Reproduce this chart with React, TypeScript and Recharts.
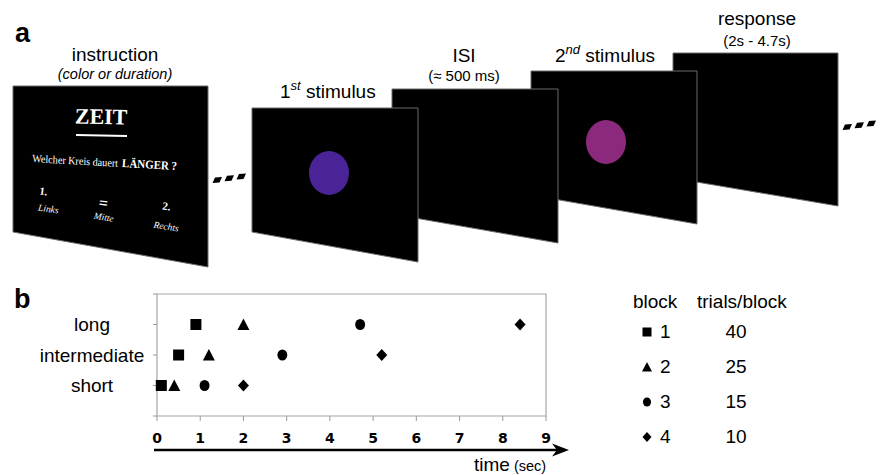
import { Legend, ReferenceArea, Scatter, ScatterChart, XAxis, YAxis } from 'recharts';

// level index: 1 = short, 2 = intermediate, 3 = long
const levels = ['', 'short', 'intermediate', 'long', ''];
const levelTicks = [0, 1, 2, 3, 4];
const timeTicks = [0, 1, 2, 3, 4, 5, 6, 7, 8, 9];

// trial durations (sec) for short / intermediate / long, per block
const block1Times = [0.1, 0.5, 0.9];
const block2Times = [0.4, 1.2, 2.0];
const block3Times = [1.1, 2.9, 4.7];
const block4Times = [2.0, 5.2, 8.4];

const blockNames = ['1', '2', '3', '4'];
const trialsPerBlock = [40, 25, 15, 10];

const toPoints = (times: number[]) => times.map((t, i) => ({ t, level: i + 1 }));

const SANS = '"Liberation Sans", Arial, sans-serif';
const SERIF = '"Liberation Serif", "Times New Roman", serif';

type Mark = 'square' | 'triangle' | 'circle' | 'diamond';
const marks: Mark[] = ['square', 'triangle', 'circle', 'diamond'];

function Marker({ kind, cx, cy, s }: { kind: Mark; cx: number; cy: number; s: number }) {
  const h = s / 2;
  if (kind === 'square') return <rect x={cx - h} y={cy - h} width={s} height={s} fill="#000" />;
  if (kind === 'triangle')
    return <polygon points={`${cx},${cy - h - 0.5} ${cx + h + 0.5},${cy + h} ${cx - h - 0.5},${cy + h}`} fill="#000" />;
  if (kind === 'circle') return <ellipse cx={cx} cy={cy} rx={h * 0.9} ry={h} fill="#000" />;
  return <polygon points={`${cx},${cy - h - 0.5} ${cx + h},${cy} ${cx},${cy + h + 0.5} ${cx - h},${cy}`} fill="#000" />;
}

const shapeFor = (kind: Mark) => (p: any) => <Marker kind={kind} cx={p.cx} cy={p.cy} s={11} />;

function LevelTick({ x, y, payload }: any) {
  const label = levels[payload.value];
  if (!label) return null;
  return (
    <text x={x - 59} y={y} dy="0.35em" textAnchor="middle" fontFamily={SANS} fontSize={19} fill="#000">
      {label}
    </text>
  );
}

function TimeTick({ x, y, payload }: any) {
  return (
    <text x={x} y={y + 20} textAnchor="middle" fontFamily='"DejaVu Sans", Verdana, sans-serif' fontWeight="bold" fontSize={14} fill="#000">
      {payload.value}
    </text>
  );
}

function BlockTable({ payload }: any) {
  const rows = payload ?? [];
  return (
    <svg width={200} height={170} style={{ display: 'block' }}>
      <g fontFamily={SANS} fontSize={19} fill="#000">
        <text x={13} y={23}>block</text>
        <text x={77} y={23}>trials/block</text>
        {rows.map((entry: any, i: number) => {
          const base = 53 + i * 35;
          return (
            <g key={i}>
              <Marker kind={marks[i]} cx={27} cy={base - 6} s={9} />
              <text x={40} y={base}>{entry.value}</text>
              <text x={116} y={base} textAnchor="middle">{trialsPerBlock[i]}</text>
            </g>
          );
        })}
      </g>
    </svg>
  );
}

function Screen({ pts }: { pts: number[][] }) {
  return <polygon points={pts.map((p) => p.join(',')).join(' ')} fill="#000" stroke="#6a6a6a" strokeWidth={1} />;
}

function Dashes({ x, y }: { x: number; y: number }) {
  return (
    <g fill="#000">
      {[0, 1, 2].map((i) => {
        const cx = x + i * 12;
        const cy = y - i * 1.8;
        return <polygon key={i} points={`${cx - 4.5},${cy + 3} ${cx + 2.5},${cy + 2.5} ${cx + 5},${cy - 3} ${cx - 2},${cy - 2.5}`} />;
      })}
    </g>
  );
}

function PanelA() {
  return (
    <svg width={881} height={475} style={{ position: 'absolute', left: 0, top: 0 }}>
      <g fontFamily={SANS} fill="#000">
        <text x={15} y={42} fontSize={27} fontWeight="bold">a</text>
        <text x={14} y={308} fontSize={27} fontWeight="bold">b</text>

        <text x={115} y={61} fontSize={19} textAnchor="middle">instruction</text>
        <text x={115} y={79} fontSize={14.5} fontStyle="italic" textAnchor="middle">(color or duration)</text>

        <text x={280} y={98} fontSize={19}>
          1<tspan fontSize={13} fontStyle="italic" dy={-8}>st</tspan>
          <tspan dy={8}> stimulus</tspan>
        </text>
        <text x={464} y={62} fontSize={19} textAnchor="middle">ISI</text>
        <text x={464} y={81} fontSize={15} textAnchor="middle">(≈ 500 ms)</text>
        <text x={555} y={62} fontSize={19}>
          2<tspan fontSize={13} fontStyle="italic" dy={-8}>nd</tspan>
          <tspan dy={8}> stimulus</tspan>
        </text>
        <text x={757} y={25} fontSize={19} textAnchor="middle">response</text>
        <text x={757} y={46} fontSize={15} textAnchor="middle">(2s - 4.7s)</text>
      </g>

      {/* instruction screen */}
      <Screen pts={[[13, 86], [208, 86], [208, 267], [13, 232]]} />
      <g fontFamily={SERIF} fill="#fff">
        <text x={101} y={124} fontSize={22} fontWeight="bold" textAnchor="middle" transform="rotate(1 101 124)">ZEIT</text>
        <line x1={76} y1={135} x2={127} y2={136} stroke="#fff" strokeWidth={2} />
        <g transform="rotate(3.2 32 162)">
          <text x={32} y={162} fontSize={11} textLength={86} lengthAdjust="spacingAndGlyphs">Welcher Kreis dauert</text>
          <text x={122} y={162} fontSize={12} fontWeight="bold" textLength={55} lengthAdjust="spacingAndGlyphs">LÄNGER ?</text>
        </g>
        <g transform="rotate(7 43 195)" fontWeight="bold" fontSize={11}>
          <text x={43} y={195} textAnchor="middle">1.</text>
          <text x={104} y={201} textAnchor="middle" fontSize={16}>=</text>
          <text x={167} y={195} textAnchor="middle">2.</text>
        </g>
        <g transform="rotate(8.5 48 212)" fontStyle="italic" fontSize={9.5}>
          <text x={48} y={212} textAnchor="middle">Links</text>
          <text x={104} y={212} textAnchor="middle">Mitte</text>
          <text x={167} y={212} textAnchor="middle">Rechts</text>
        </g>
      </g>

      <Dashes x={217} y={180} />

      {/* stimulus sequence, back to front */}
      <Screen pts={[[673, 53], [838, 53], [838, 206], [673, 178]]} />
      <Screen pts={[[531, 71], [697, 71], [697, 224], [531, 195]]} />
      <ellipse cx={606} cy={142} rx={20} ry={22} fill="#8b2a7c" />
      <Screen pts={[[392, 89], [558, 89], [558, 243], [392, 214]]} />
      <Screen pts={[[252, 108], [418, 108], [418, 262], [252, 232]]} />
      <ellipse cx={329} cy={173} rx={20} ry={22} fill="#4a2496" />

      <Dashes x={847} y={127} />

      {/* time arrow under panel b */}
      <line x1={154} y1={450} x2={560} y2={450} stroke="#000" strokeWidth={2.5} />
      <polygon points="569,450 552,443.5 557,450 552,456.5" fill="#000" />
      <text x={474} y={471} fontFamily={SANS} fontSize={19} fill="#000">
        time<tspan fontSize={14.5}> (sec)</tspan>
      </text>
    </svg>
  );
}

export default function App() {
  return (
    <div style={{ position: 'absolute', left: 0, top: 0, width: 881, height: 475, background: '#fff' }}>
      <PanelA />
      <div style={{ position: 'absolute', left: 0, top: 0 }}>
        <ScatterChart width={881} height={475} margin={{ top: 294, right: 335, bottom: 29, left: 37 }}>
          <XAxis
            type="number"
            dataKey="t"
            domain={[0, 9]}
            ticks={timeTicks}
            interval={0}
            height={30}
            axisLine={false}
            tickLine={{ stroke: '#9a9a9a' }}
            tickSize={5}
            tickMargin={2}
            tick={<TimeTick />}
          />
          <YAxis
            type="number"
            dataKey="level"
            domain={[0, 4]}
            ticks={levelTicks}
            interval={0}
            width={120}
            axisLine={false}
            tickLine={{ stroke: '#9a9a9a' }}
            tickSize={4}
            tickMargin={2}
            tick={<LevelTick />}
          />
          <ReferenceArea x1={0} x2={9} y1={0} y2={4} fill="none" stroke="#a6a6a6" strokeWidth={1.2} ifOverflow="visible" />
          <Scatter name={blockNames[0]} data={toPoints(block1Times)} shape={shapeFor('square')} isAnimationActive={false} />
          <Scatter name={blockNames[1]} data={toPoints(block2Times)} shape={shapeFor('triangle')} isAnimationActive={false} />
          <Scatter name={blockNames[2]} data={toPoints(block3Times)} shape={shapeFor('circle')} isAnimationActive={false} />
          <Scatter name={blockNames[3]} data={toPoints(block4Times)} shape={shapeFor('diamond')} isAnimationActive={false} />
          <Legend
            layout="vertical"
            align="center"
            verticalAlign="middle"
            content={<BlockTable />}
            wrapperStyle={{ left: 620, top: 285, width: 200, height: 170 }}
          />
        </ScatterChart>
      </div>
    </div>
  );
}
